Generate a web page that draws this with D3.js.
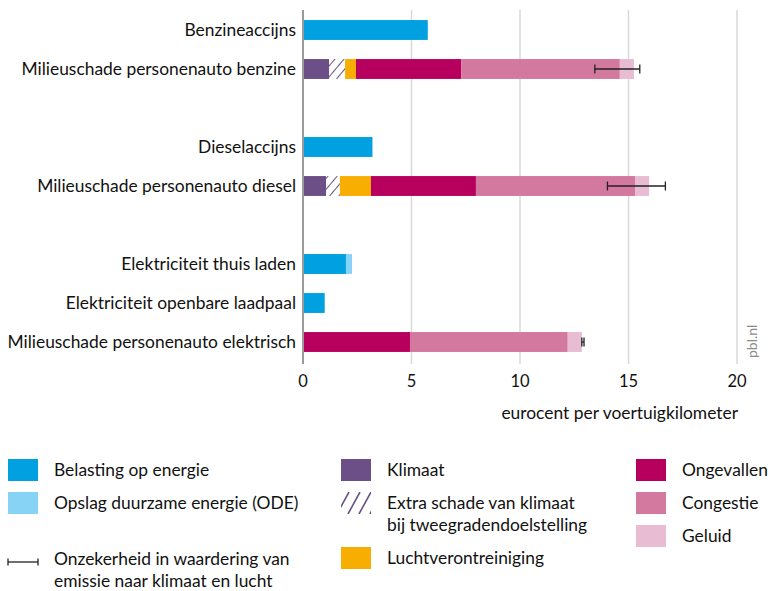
<!DOCTYPE html>
<html>
<head>
<meta charset="utf-8">
<script src="https://cdn.jsdelivr.net/npm/d3@7"></script>
<style>
  body { margin: 0; background: #fff; }
  svg text { font-family: Lato, "Open Sans", sans-serif; fill: #111; }
</style>
</head>
<body>
<svg id="chart"></svg>
<script>
const width = 770;
const height = 591;

// categorieën (null = lege rij)
const categories = [
  "Benzineaccijns",
  "Milieuschade personenauto benzine",
  null,
  "Dieselaccijns",
  "Milieuschade personenauto diesel",
  null,
  "Elektriciteit thuis laden",
  "Elektriciteit openbare laadpaal",
  "Milieuschade personenauto elektrisch"
];

const seriesNames = ["Belasting op energie", "Opslag duurzame energie (ODE)", "Klimaat",
  "Extra schade van klimaat bij tweegradendoelstelling", "Luchtverontreiniging",
  "Ongevallen", "Congestie", "Geluid"];

// waarden per categorie, in volgorde van seriesNames
const belasting = [5.75, 0, null, 3.2, 0, null, 1.98, 1.0, 0];
const ode       = [0, 0, null, 0, 0, null, 0.28, 0, 0];
const klimaat   = [0, 1.2, null, 0, 1.06, null, 0, 0, 0];
const extra     = [0, 0.74, null, 0, 0.64, null, 0, 0, 0];
const lucht     = [0, 0.5, null, 0, 1.43, null, 0, 0, 0.02];
const ongevallen= [0, 4.86, null, 0, 4.84, null, 0, 0, 4.91];
const congestie = [0, 7.3, null, 0, 7.33, null, 0, 0, 7.27];
const geluid    = [0, 0.65, null, 0, 0.65, null, 0, 0, 0.65];

// onzekerheid (min, max)
const errLow  = [null, 13.45, null, null, 14.03, null, null, null, 12.85];
const errHigh = [null, 15.52, null, null, 16.7, null, null, null, 12.95];

const xTicks = [0, 5, 10, 15, 20];

const colors = ["#00a0e1", "#86d3f5", "#6b4f86", "hatch", "#f8ae00", "#b7005e", "#d3789f", "#e8bcd2"];
const seriesValues = [belasting, ode, klimaat, extra, lucht, ongevallen, congestie, geluid];

const svg = d3.select("#chart").attr("width", width).attr("height", height);

const defs = svg.append("defs");
const pat = defs.append("pattern")
  .attr("id", "hatch")
  .attr("patternUnits", "userSpaceOnUse")
  .attr("width", 7).attr("height", 7)
  .attr("patternTransform", "rotate(40)");
pat.append("rect").attr("width", 7).attr("height", 7).attr("fill", "#fff");
pat.append("line").attr("x1", 0).attr("y1", 0).attr("x2", 0).attr("y2", 7)
  .attr("stroke", "#6b4f86").attr("stroke-width", 2);

const fillOf = c => c === "hatch" ? "url(#hatch)" : c;

const x = d3.scaleLinear().domain([0, 20]).range([303, 737]);
const y = d3.scaleBand().domain(d3.range(categories.length)).range([10.5, 361.5]).paddingInner(0.49).paddingOuter(0.245);

// gridlijnen
svg.append("g").selectAll("line")
  .data(xTicks.filter(d => d > 0))
  .enter().append("line")
  .attr("x1", d => x(d)).attr("x2", d => x(d))
  .attr("y1", 10).attr("y2", 364)
  .attr("stroke", "#d9d9d9").attr("stroke-width", 1.5);

// gestapelde balken
const stacked = categories.map((c, i) => {
  let acc = 0;
  return seriesValues.map((s, k) => {
    const v = s[i] || 0;
    const seg = {i: i, k: k, x0: acc, x1: acc + v};
    acc += v;
    return seg;
  }).filter(d => d.x1 > d.x0);
});

svg.append("g").selectAll("rect")
  .data(stacked.flat())
  .enter().append("rect")
  .attr("x", d => x(d.x0))
  .attr("width", d => x(d.x1) - x(d.x0))
  .attr("y", d => y(d.i))
  .attr("height", y.bandwidth())
  .attr("fill", d => fillOf(colors[d.k]));

// as
svg.append("line")
  .attr("x1", x(0)).attr("x2", x(0)).attr("y1", 10).attr("y2", 364)
  .attr("stroke", "#9a9a9a").attr("stroke-width", 2);

// foutbalken
const errData = categories.map((c, i) => ({i: i, lo: errLow[i], hi: errHigh[i]})).filter(d => d.lo != null);
const eg = svg.append("g").attr("stroke", "#222").attr("stroke-width", 1.3);
errData.forEach(d => {
  const cy = y(d.i) + y.bandwidth() / 2;
  eg.append("line").attr("x1", x(d.lo)).attr("x2", x(d.hi)).attr("y1", cy).attr("y2", cy);
  eg.append("line").attr("x1", x(d.lo)).attr("x2", x(d.lo)).attr("y1", cy - 4.5).attr("y2", cy + 4.5);
  eg.append("line").attr("x1", x(d.hi)).attr("x2", x(d.hi)).attr("y1", cy - 4.5).attr("y2", cy + 4.5);
});

// categorie labels
svg.append("g").selectAll("text")
  .data(categories.map((c, i) => ({c, i})).filter(d => d.c))
  .enter().append("text")
  .attr("x", 296)
  .attr("y", d => y(d.i) + y.bandwidth() / 2)
  .attr("dy", "0.35em")
  .attr("text-anchor", "end")
  .style("font-size", "17.4px")
  .text(d => d.c);

// x-as labels
svg.append("g").selectAll("text")
  .data(xTicks)
  .enter().append("text")
  .attr("x", d => x(d))
  .attr("y", 387)
  .attr("text-anchor", "middle")
  .style("font-size", "16.5px")
  .text(d => d);

svg.append("text")
  .attr("x", 738).attr("y", 419)
  .attr("text-anchor", "end")
  .style("font-size", "17.4px")
  .text("eurocent per voertuigkilometer");

svg.append("text")
  .attr("transform", "translate(757,358) rotate(-90)")
  .style("font-size", "14px")
  .style("fill", "#8a8a8a")
  .text("pbl.nl");

// legenda
const legend = [
  {k: 0, col: 0, cy: 470, lines: ["Belasting op energie"]},
  {k: 1, col: 0, cy: 503, lines: ["Opslag duurzame energie (ODE)"]},
  {k: -1, col: 0, cy: 559, lines: ["Onzekerheid in waardering van", "emissie naar klimaat en lucht"]},
  {k: 2, col: 1, cy: 470, lines: ["Klimaat"]},
  {k: 3, col: 1, cy: 503, lines: ["Extra schade van klimaat", "bij tweegradendoelstelling"]},
  {k: 4, col: 1, cy: 558, lines: ["Luchtverontreiniging"]},
  {k: 5, col: 2, cy: 470, lines: ["Ongevallen"]},
  {k: 6, col: 2, cy: 503, lines: ["Congestie"]},
  {k: 7, col: 2, cy: 536, lines: ["Geluid"]}
];
const colX = [8, 341, 636];
const lg = svg.append("g");
legend.forEach(d => {
  const lx = colX[d.col];
  const cy = d.cy;
  if (d.k === -1) {
    const iy = cy + 3;
    lg.append("line").attr("x1", lx).attr("x2", lx + 30).attr("y1", iy).attr("y2", iy).attr("stroke", "#222").attr("stroke-width", 1.3);
    lg.append("line").attr("x1", lx).attr("x2", lx).attr("y1", iy - 3.5).attr("y2", iy + 3.5).attr("stroke", "#222").attr("stroke-width", 1.3);
    lg.append("line").attr("x1", lx + 30).attr("x2", lx + 30).attr("y1", iy - 3.5).attr("y2", iy + 3.5).attr("stroke", "#222").attr("stroke-width", 1.3);
  } else if (colors[d.k] === "hatch") {
    const g = lg.append("g");
    g.append("clipPath").attr("id", "lgclip").append("rect")
      .attr("x", lx).attr("y", cy - 11).attr("width", 30).attr("height", 22);
    [-4, 7, 18, 29].forEach(o => {
      g.append("line").attr("x1", lx + o).attr("y1", cy + 11).attr("x2", lx + o + 12).attr("y2", cy - 11)
        .attr("clip-path", "url(#lgclip)")
        .attr("stroke", "#6b4f86").attr("stroke-width", 1.6);
    });
  } else {
    lg.append("rect").attr("x", lx).attr("y", cy - 11).attr("width", 30).attr("height", 22).attr("fill", colors[d.k]);
  }
  d.lines.forEach((t, j) => {
    lg.append("text").attr("x", colX[d.col] + 46).attr("y", cy + j * 22).attr("dy", "0.35em")
      .style("font-size", "17.4px").text(t);
  });
});
</script>
</body>
</html>
